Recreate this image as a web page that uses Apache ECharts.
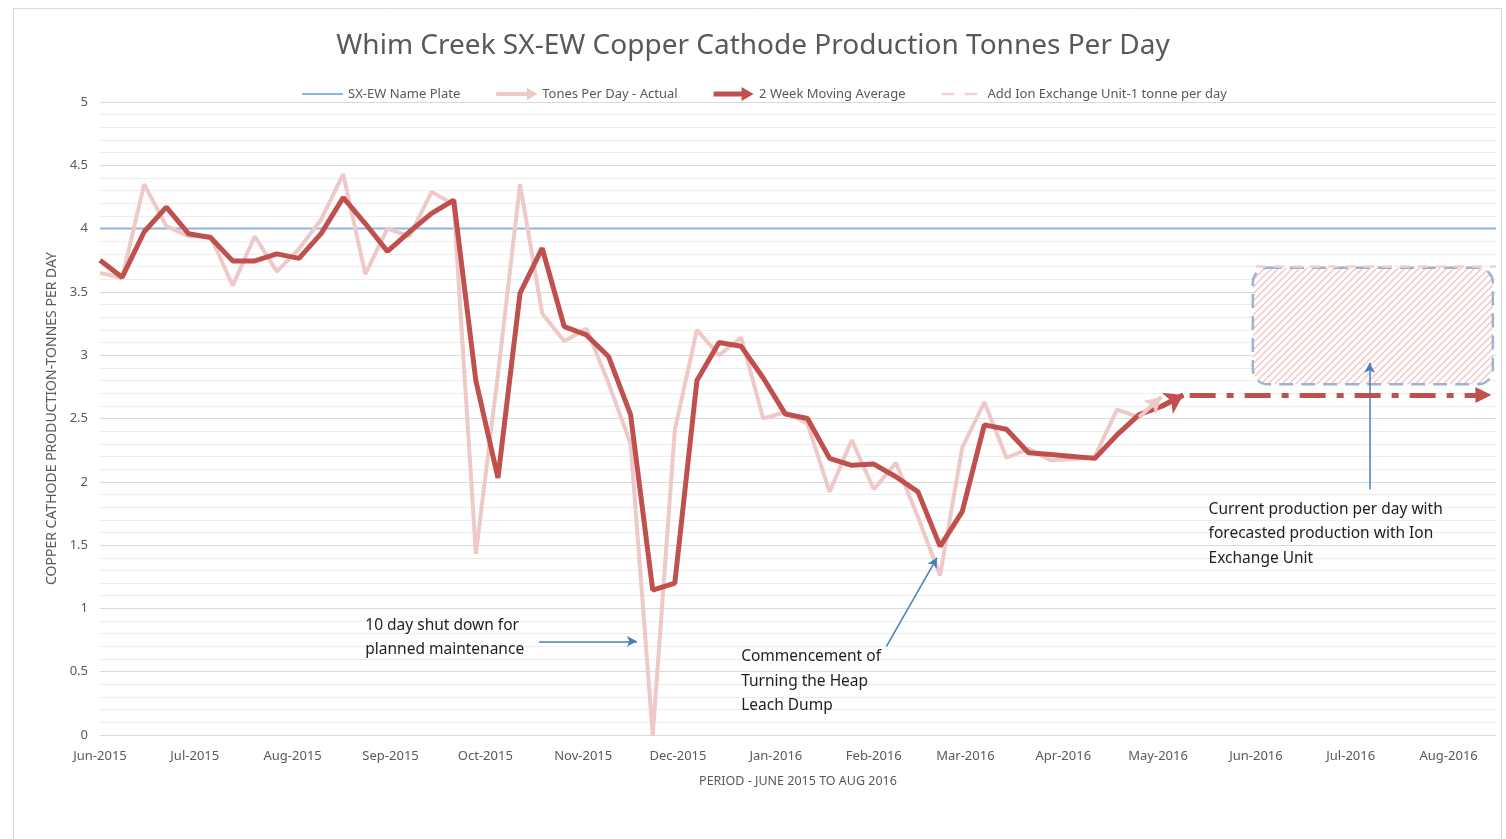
<!DOCTYPE html>
<html><head><meta charset="utf-8">
<script src="https://cdn.jsdelivr.net/npm/echarts@6/dist/echarts.min.js"></script>
<style>html,body{margin:0;padding:0;background:#fff}#c{width:1506px;height:839px}</style>
</head><body><div id="c"></div>
<script>
// ---- data ----
const weeks = ['2015-06-01','2015-06-08','2015-06-15','2015-06-22','2015-06-29','2015-07-06','2015-07-13','2015-07-20','2015-07-27',
  '2015-08-03','2015-08-10','2015-08-17','2015-08-24','2015-08-31','2015-09-07','2015-09-14','2015-09-21','2015-09-28',
  '2015-10-05','2015-10-12','2015-10-19','2015-10-26','2015-11-02','2015-11-09','2015-11-16','2015-11-23','2015-11-30',
  '2015-12-07','2015-12-14','2015-12-21','2015-12-28','2016-01-04','2016-01-11','2016-01-18','2016-01-25',
  '2016-02-01','2016-02-08','2016-02-15','2016-02-22','2016-02-29','2016-03-07','2016-03-14','2016-03-21','2016-03-28',
  '2016-04-04','2016-04-11','2016-04-18','2016-04-25','2016-05-02','2016-05-09'];
const actual = [3.65,3.61,4.35,4.02,3.94,3.94,3.55,3.94,3.66,3.84,4.07,4.43,3.64,4.00,3.94,4.29,4.19,1.43,2.85,4.35,
  3.33,3.11,3.21,2.78,2.30,0.00,2.41,3.20,3.00,3.14,2.50,2.55,2.46,1.92,2.33,1.94,2.15,1.72,1.26,2.27,
  2.63,2.19,2.26,2.17,2.18,2.20,2.57,2.51,2.67];
const movingAvg = [3.75,3.615,3.975,4.17,3.96,3.93,3.745,3.745,3.80,3.765,3.96,4.245,4.04,3.82,3.975,4.12,4.225,2.80,2.03,3.49,
  3.845,3.225,3.16,2.99,2.53,1.145,1.20,2.80,3.10,3.07,2.82,2.535,2.50,2.185,2.13,2.14,2.04,1.92,1.49,1.765,
  2.45,2.415,2.23,2.215,2.20,2.185,2.37,2.53,2.595,2.685];
const namePlateDates = ['2015-06-01','2016-08-16'];
const namePlateValue = 4;
const ionDates = ['2016-06-01','2016-08-16'];
const ionValue = 3.7;
const forecastDates = ['2016-05-11','2016-08-12'];
const forecastValue = 2.685;
const boxDates = ['2016-05-31','2016-08-15'];
const boxValues = [3.69, 2.77];
const axisRange = ['2015-06-01','2016-08-16'];
const monthNames = ['Jan','Feb','Mar','Apr','May','Jun','Jul','Aug','Sep','Oct','Nov','Dec'];
const seriesNames = ['SX-EW Name Plate','Tones Per Day - Actual','2 Week Moving Average','Add Ion Exchange Unit-1 tonne per day'];
const notes = [
  {lines:['10 day shut down for','planned maintenance'], at:['2015-08-24',0.87], arrow:[['2015-10-18',0.74],['2015-11-18',0.74]]},
  {lines:['Commencement of','Turning the Heap','Leach Dump'], at:['2015-12-21',0.62], arrow:[['2016-02-05',0.70],['2016-02-21',1.40]]},
  {lines:['Current production per day with','forecasted production with Ion','Exchange Unit'], at:['2016-05-17',1.785], arrow:[['2016-07-07',1.94],['2016-07-07',2.94]]}
];

// ---- helpers ----
const ts = s => { const p = s.split('-').map(Number); return new Date(p[0], p[1]-1, p[2]).getTime(); };
const FONT = '"Noto Sans", "Open Sans", sans-serif';
const RED = '#C0504D', PINK = '#EFC8C8', BLUE = '#8DB4E2', ANN = '#4A7EBB', IONPINK = '#F2D0D0';
const DAY = 86400000;

const pc = document.createElement('canvas'); pc.width = 7; pc.height = 7;
const g = pc.getContext('2d'); g.fillStyle = '#fff'; g.fillRect(0,0,7,7);
g.strokeStyle = '#F2C2C2'; g.lineWidth = 1.3;
g.beginPath(); g.moveTo(0,7); g.lineTo(7,0); g.moveTo(-1,1); g.lineTo(1,-1); g.moveTo(6,8); g.lineTo(8,6); g.stroke();

const chart = echarts.init(document.getElementById('c'), null, {renderer:'canvas'});
const actualData = actual.map((v,i)=>[ts(weeks[i]), v]);
const maData = movingAvg.map((v,i)=>[ts(weeks[i]), v]);
const nA = actualData.length, nM = maData.length;

const option = {
  animation: false,
  backgroundColor: '#fff',
  textStyle: {fontFamily: FONT},
  title: {text:'Whim Creek SX-EW Copper Cathode Production Tonnes Per Day', left:'center', top:27,
    textStyle:{fontFamily:FONT, fontSize:28, fontWeight:'normal', color:'#595959'}},
  legend: {top:82, left:297, itemWidth:41, itemHeight:14, itemGap:36,
    textStyle:{fontFamily:FONT, fontSize:13, color:'#595959'},
    data:[
      {name:seriesNames[0], icon:'path://M0,0 L41,0 L41,2 L0,2 Z'},
      {name:seriesNames[1], icon:'path://M0,5 L30,5 L30,1 L40,7 L30,13 L30,9 L0,9 Z'},
      {name:seriesNames[2], icon:'path://M0,4.5 L28,4.5 L28,0 L40,7 L28,14 L28,9.5 L0,9.5 Z'},
      {name:seriesNames[3], icon:'path://M2,0 L14,0 L14,2.5 L2,2.5 Z M24,0 L36,0 L36,2.5 L24,2.5 Z M40,0 L41,0 L41,0.1 L40,0.1 Z'}
    ]},
  grid: {left:100, right:10, top:102, bottom:104, containLabel:false},
  xAxis: {type:'time', min:ts(axisRange[0]), max:ts(axisRange[1]), splitNumber:15,
    minInterval: 28*DAY, maxInterval: 31*DAY,
    name:'PERIOD - JUNE 2015 TO AUG 2016', nameLocation:'middle', nameGap:40,
    nameTextStyle:{fontFamily:FONT, fontSize:12.5, color:'#595959'},
    axisLine:{show:false}, axisTick:{show:false}, splitLine:{show:false},
    axisLabel:{margin:15, fontFamily:FONT, fontSize:13, color:'#595959', hideOverlap:false,
      formatter: v => { const d = new Date(v); return monthNames[d.getMonth()] + '-' + d.getFullYear(); }}
  },
  yAxis: {type:'value', min:0, max:5, interval:0.5,
    name:'COPPER CATHODE PRODUCTION-TONNES PER DAY', nameLocation:'middle', nameGap:36, nameRotate:90,
    nameTextStyle:{fontFamily:FONT, fontSize:14, color:'#595959'},
    axisLine:{show:false}, axisTick:{show:false},
    axisLabel:{margin:12, fontFamily:FONT, fontSize:13, color:'#595959'},
    splitLine:{lineStyle:{color:'#D9D9D9', width:1}},
    minorTick:{show:false, splitNumber:5},
    minorSplitLine:{show:true, lineStyle:{color:'#EDEDED', width:1}}
  },
  series: [
    {type:'custom', name:'box', silent:true, z:1,
      data:[[ts(boxDates[0]), boxValues[0], ts(boxDates[1]), boxValues[1]]],
      encode:{x:[0,2], y:[1,3]},
      renderItem:(params, api) => {
        const p1 = api.coord([api.value(0), api.value(1)]);
        const p2 = api.coord([api.value(2), api.value(3)]);
        return {type:'rect', shape:{x:p1[0], y:p1[1], width:p2[0]-p1[0], height:p2[1]-p1[1], r:15},
          style:{fill:{image:pc, repeat:'repeat'}, stroke:'#9DB3CF', lineWidth:2.5, lineDash:[14,8]}};
      }},
    {type:'line', name:seriesNames[0], symbol:'none', z:2, silent:true,
      data: namePlateDates.map(d=>[ts(d), namePlateValue]),
      lineStyle:{color:BLUE, width:2}, itemStyle:{color:BLUE},
      markLine:{silent:true, symbol:['none','arrow'], symbolSize:[8,10], label:{show:false},
        lineStyle:{color:ANN, width:1.5, type:'solid'},
        data: notes.map(n => [{coord:[ts(n.arrow[0][0]), n.arrow[0][1]]}, {coord:[ts(n.arrow[1][0]), n.arrow[1][1]]}])}
    },
    {type:'line', name:seriesNames[1], symbol:'none', z:3, silent:true,
      data: actualData, lineStyle:{color:PINK, width:4}, itemStyle:{color:PINK},
      markLine:{silent:true, symbol:['none','arrow'], symbolSize:[14,16], label:{show:false},
        lineStyle:{color:PINK, width:4, type:'solid'},
        data:[[{coord:actualData[nA-2]},{coord:actualData[nA-1]}]]}
    },
    {type:'line', name:seriesNames[2], symbol:'none', z:4, silent:true,
      data: maData, lineStyle:{color:RED, width:5}, itemStyle:{color:RED},
      markLine:{silent:true, symbol:['none','arrow'], symbolSize:[18,18], label:{show:false},
        lineStyle:{color:RED, width:5, type:'solid'},
        data:[[{coord:maData[nM-2]},{coord:maData[nM-1]}]]}
    },
    {type:'line', name:seriesNames[3], symbol:'none', z:3, silent:true,
      data: ionDates.map(d=>[ts(d), ionValue]), lineStyle:{color:IONPINK, width:2.5, type:[10,8]}, itemStyle:{color:IONPINK}},
    {type:'line', name:'forecast', symbol:'none', z:4, silent:true,
      data: forecastDates.map(d=>[ts(d), forecastValue]), lineStyle:{width:0, opacity:0}, itemStyle:{color:RED},
      markLine:{silent:true, symbol:['none','triangle'], symbolSize:[16,16], label:{show:false},
        lineStyle:{color:RED, width:5, type:[26,11,7,11]},
        data:[[{coord:[ts(forecastDates[0]), forecastValue]},{coord:[ts(forecastDates[1]), forecastValue]}]]}
    }
  ]
};
chart.setOption(option);

const gfx = [{type:'rect', silent:true, shape:{x:13.5, y:8.5, width:1488, height:860}, style:{fill:null, stroke:'#D9D9D9', lineWidth:1}}];
notes.forEach(n => {
  const p = chart.convertToPixel({gridIndex:0}, [ts(n.at[0]), n.at[1]]);
  gfx.push({type:'text', silent:true, x:p[0], y:p[1]-12, z:10,
    style:{text:n.lines.join('\n'), fontFamily:FONT, fontSize:15.5, lineHeight:24.5, fill:'#1F1F1F', align:'left', verticalAlign:'top'}});
});
chart.setOption({graphic: gfx});
</script>
</body></html>
